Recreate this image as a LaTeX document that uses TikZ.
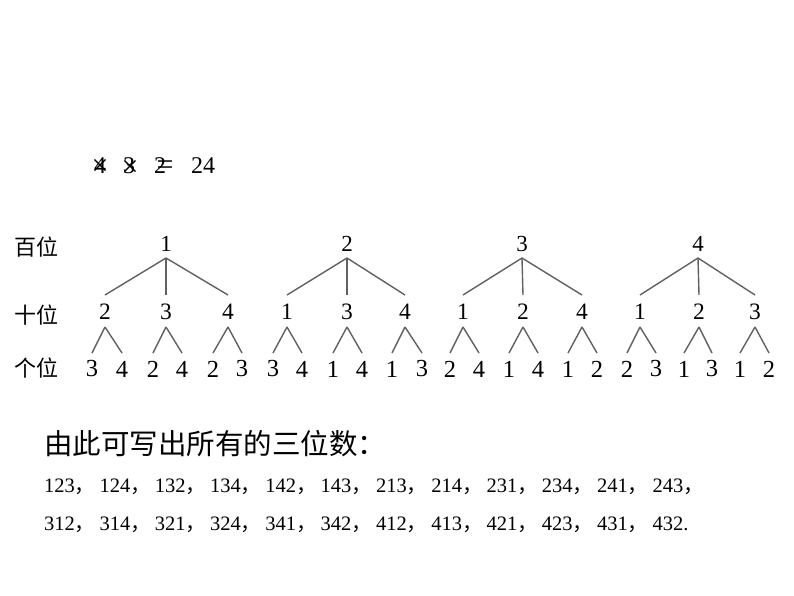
\documentclass[tikz,border=0pt]{standalone}
\usepackage{fontspec}
\setmainfont{Liberation Serif}
\newfontfamily\cjk{Noto Sans CJK SC}
\usetikzlibrary{calc}
\newcommand\itm[1]{\makebox[55.3pt][l]{#1\cjk{，}}}
\begin{document}
\begin{tikzpicture}[x=1pt,y=-1pt,
  topd/.style={inner sep=0pt,font=\fontsize{23}{23}\selectfont},
  dig/.style={inner sep=0pt,font=\fontsize{23.5}{23.5}\selectfont},
  leaf/.style={inner sep=0pt,font=\fontsize{24.5}{24.5}\selectfont},
  lbl/.style={inner sep=0pt,font=\cjk\fontsize{22}{22}\selectfont},
  eq/.style={inner sep=0pt,font=\fontsize{24}{24}\selectfont},
  ov/.style={inner sep=0pt,font=\fontsize{30}{30}\selectfont},
  edge/.style={draw=black!62,line width=1.4pt}]
\useasboundingbox[fill=white] (0,0) rectangle (794,596);
% top formula (overlapped glyphs)
\node[eq] (f4) at (100,166) {4};
\node[ov] (fx1) at (100,167) {×};
\node[eq] (f3) at (129,166) {3};
\node[ov] (fx2) at (130,168) {×};
\node[eq] (f2) at (160,166) {2};
\node[ov] (feq) at (165,168) {=};
\node[eq] (f24) at (203,166) {24};
% row labels
\node[lbl] (b) at (36,247) {百位};
\node[lbl] (s) at (36,315) {十位};
\node[lbl] (g) at (36,368) {个位};
% hundreds
\foreach \i/\x in {1/166,2/347,3/522,4/698}
  \node[topd] (t\i) at (\x,244) {\i};
% tens
\foreach \n/\x/\v in {11/105/2,12/166/3,13/228/4,
                      21/287/1,22/347/3,23/405/4,
                      31/463/1,32/523/2,33/582/4,
                      41/640/1,42/699/2,43/755/3}
  \node[dig] (s\n) at (\x,312) {\v};
% units
\foreach \n/\x/\v in {111/92/3,112/122/4,121/153/2,122/182/4,131/213/2,132/242/3,
                      211/273/3,212/302/4,221/333/1,222/362/4,231/392/1,232/422/3,
                      311/450/2,312/479/4,321/509/1,322/538/4,331/568/1,332/597/2,
                      411/627/2,412/656/3,421/684/1,422/712/3,431/740/1,432/769/2}
  \node[leaf] (l\n) at (\x,369) {\v};
% connectors
\foreach \i in {1,...,4}{
  \foreach \j in {1,2,3}{
    \draw[edge] ($(t\i)+(0,14)$) -- ($(s\i\j)+(0,-17)$);
    \foreach \k in {1,2}
      \draw[edge] ($(s\i\j)+(0,15)$) -- ($(l\i\j\k)+(0,-16)$);
  }
}
% text below
\node[anchor=west,inner sep=0pt,font=\cjk\fontsize{28.5}{28.5}\selectfont] (hd) at (44,444) {由此可写出所有的三位数：};
\node[anchor=base west,inner sep=0pt,font=\fontsize{20.5}{20.5}\selectfont] (r1) at (44,492)
  {\itm{123}\itm{124}\itm{132}\itm{134}\itm{142}\itm{143}\itm{213}\itm{214}\itm{231}\itm{234}\itm{241}243\cjk{，}};
\node[anchor=base west,inner sep=0pt,font=\fontsize{20.5}{20.5}\selectfont] (r2) at (44,530)
  {\itm{312}\itm{314}\itm{321}\itm{324}\itm{341}\itm{342}\itm{412}\itm{413}\itm{421}\itm{423}\itm{431}432.};
\end{tikzpicture}
\end{document}
